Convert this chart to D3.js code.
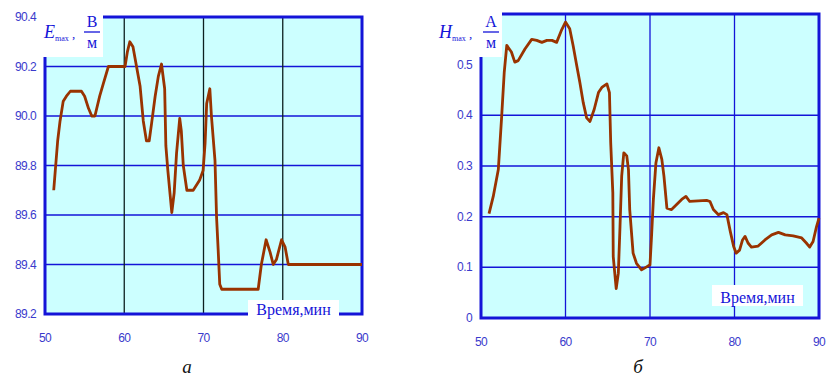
<!DOCTYPE html>
<html>
<head>
<meta charset="utf-8">
<script src="https://cdn.jsdelivr.net/npm/d3@7"></script>
<style>
body { margin: 0; background: #fff; }
</style>
</head>
<body>
<div id="chart"></div>
<script>
// time ticks shared by both panels
const xTicks = [50, 60, 70, 80, 90];

// panel a: E max, V/m
const eTicks = [89.2, 89.4, 89.6, 89.8, 90.0, 90.2, 90.4];
const eTime = [51.1, 51.3, 51.6, 51.9, 52.3, 52.7, 53.2, 54.0, 54.6, 55.0, 55.5, 55.9, 56.3, 56.9, 57.35, 58.0, 59.0, 60.1,
  60.4, 60.7, 61.1, 61.55, 62.0, 62.4, 62.8, 63.15, 63.45, 63.9, 64.3, 64.7, 65.1, 65.25, 65.5, 66.0, 66.3, 66.6, 67.0,
  67.2, 67.45, 67.9, 68.7, 69.5, 69.95, 70.2, 70.4, 70.8, 71.0, 71.45, 71.65, 71.85, 72.05, 72.3, 76.9, 77.3, 77.9,
  78.4, 78.8, 79.2, 79.85, 80.3, 80.7, 90.0];
const eValue = [89.70, 89.78, 89.90, 89.98, 90.06, 90.08, 90.10, 90.10, 90.10, 90.08, 90.03, 90.00, 90.00, 90.08, 90.13,
  90.20, 90.20, 90.20, 90.26, 90.30, 90.28, 90.20, 90.12, 89.98, 89.90, 89.90, 89.97, 90.08, 90.16, 90.21, 90.11, 89.88,
  89.78, 89.61, 89.69, 89.85, 89.99, 89.94, 89.80, 89.70, 89.70, 89.74, 89.78, 89.89, 90.05, 90.11, 90.00, 89.82, 89.59,
  89.46, 89.32, 89.30, 89.30, 89.40, 89.50, 89.45, 89.40, 89.42, 89.50, 89.47, 89.40, 89.40];

// panel b: H max, A/m
const hTicks = [0, 0.1, 0.2, 0.3, 0.4, 0.5];
const hTime = [50.95, 51.45, 52.05, 52.45, 52.75, 53.05, 53.6, 54.0, 54.4, 55.2, 56.0, 56.6, 57.2, 57.8, 58.4, 58.95, 59.5,
  60.0, 60.5, 60.9, 61.3, 61.7, 62.1, 62.5, 62.9, 63.4, 63.9, 64.3, 64.9, 65.2, 65.35, 65.6, 65.65, 66.0, 66.25, 66.45,
  66.65, 66.9, 67.25, 67.45, 67.6, 68.0, 68.4, 69.0, 69.6, 70.0, 70.2, 70.4, 70.7, 71.05, 71.4, 71.65, 72.0, 72.55, 73.15,
  73.75, 74.25, 74.7, 76.7, 77.1, 77.5, 78.1, 78.7, 79.1, 79.5, 79.9, 80.2, 80.6, 80.95, 81.25, 81.6, 82.0, 82.8, 83.6,
  84.4, 85.2, 86.0, 86.95, 87.95, 88.5, 88.9, 89.3, 89.7, 90.0];
const hValue = [0.206, 0.24, 0.293, 0.399, 0.485, 0.538, 0.525, 0.505, 0.508, 0.531, 0.55, 0.548, 0.544, 0.548, 0.548, 0.544,
  0.567, 0.584, 0.571, 0.538, 0.501, 0.465, 0.425, 0.395, 0.388, 0.412, 0.445, 0.455, 0.462, 0.445, 0.346, 0.247, 0.121,
  0.058, 0.088, 0.18, 0.28, 0.326, 0.32, 0.293, 0.214, 0.128, 0.108, 0.095, 0.101, 0.105, 0.167, 0.234, 0.306, 0.336, 0.313,
  0.28, 0.217, 0.214, 0.224, 0.234, 0.24, 0.23, 0.232, 0.23, 0.214, 0.204, 0.208, 0.204, 0.171, 0.141, 0.128, 0.134, 0.154,
  0.161, 0.148, 0.14, 0.142, 0.154, 0.164, 0.169, 0.164, 0.162, 0.158, 0.148, 0.14, 0.151, 0.18, 0.197];

var svg = d3.select("#chart").append("svg")
    .attr("width", 840)
    .attr("height", 376);

var blue = "#1414d8";
var tickBlue = "#3a3acc";
var serif = "'Liberation Serif', 'DejaVu Serif', serif";
var sans = "'Liberation Sans', Arial, sans-serif";

function panel(p) {
    var x = d3.scaleLinear().domain([50, 90]).range([p.left, p.right]);
    var y = d3.scaleLinear().domain(p.domain).range([p.bottom, p.top]);
    var g = svg.append("g");

    //background
    g.append("rect")
        .attr("x", p.left).attr("y", p.top)
        .attr("width", p.right - p.left).attr("height", p.bottom - p.top)
        .attr("fill", "#ccffff");

    //horizontal grid
    g.selectAll(".hg").data(p.yTicks.slice(1, -1)).enter().append("line")
        .attr("x1", p.left).attr("x2", p.right)
        .attr("y1", d => y(d)).attr("y2", d => y(d))
        .attr("stroke", blue).attr("stroke-width", 1.5);

    //vertical grid
    g.selectAll(".vg").data(xTicks.slice(1, -1)).enter().append("line")
        .attr("x1", d => x(d)).attr("x2", d => x(d))
        .attr("y1", p.top).attr("y2", p.bottom)
        .attr("stroke", p.vColor).attr("stroke-width", 1.3);

    //border
    g.append("rect")
        .attr("x", p.left).attr("y", p.top)
        .attr("width", p.right - p.left).attr("height", p.bottom - p.top)
        .attr("fill", "none").attr("stroke", blue).attr("stroke-width", 3);

    //curve
    var pts = p.t.map((t, i) => [t, p.v[i]]);
    g.append("path")
        .datum(pts)
        .attr("d", d3.line().x(d => x(d[0])).y(d => y(d[1])))
        .attr("fill", "none")
        .attr("stroke", "#993300")
        .attr("stroke-width", 2.8)
        .attr("stroke-linejoin", "round");

    //tick labels
    g.selectAll(".yl").data(p.yTicks).enter().append("text")
        .attr("x", p.left - 9).attr("y", d => y(d) + 4)
        .attr("text-anchor", "end")
        .style("font-family", sans)
        .style("font-size", "12px")
        .style("letter-spacing", "-0.6px")
        .attr("fill", tickBlue)
        .text(p.fmt);
    g.selectAll(".xl").data(xTicks).enter().append("text")
        .attr("x", d => x(d)).attr("y", p.xLabelY)
        .attr("text-anchor", "middle")
        .style("font-family", sans)
        .style("font-size", "12px")
        .style("letter-spacing", "-0.6px")
        .attr("fill", tickBlue)
        .text(d => d);

    //y label box
    var b = p.yBox;
    g.append("rect").attr("x", b[0]).attr("y", b[1]).attr("width", b[2]).attr("height", b[3]).attr("fill", "#fff");
    var lab = g.append("text").attr("x", b[0] + 4).attr("y", b[1] + 30)
        .style("font-family", serif).attr("fill", blue);
    lab.append("tspan").style("font-style", "italic").style("font-size", "18px").text(p.sym);
    lab.append("tspan").style("font-size", "8px").attr("dy", 3).text("max");
    lab.append("tspan").style("font-size", "13px").attr("dy", -3).text(" ,");
    var fx = b[0] + b[2] - 11;
    g.append("text").attr("x", fx).attr("y", b[1] + 19).attr("text-anchor", "middle")
        .style("font-family", serif).style("font-size", "16px").attr("fill", blue).text(p.unit);
    g.append("line").attr("x1", fx - 8).attr("x2", fx + 8)
        .attr("y1", b[1] + 24).attr("y2", b[1] + 24)
        .attr("stroke", blue).attr("stroke-width", 1.3);
    g.append("text").attr("x", fx).attr("y", b[1] + 40).attr("text-anchor", "middle")
        .style("font-family", serif).style("font-size", "16px").attr("fill", blue).text("м");

    //x label box
    var c = p.xBox;
    g.append("rect").attr("x", c[0]).attr("y", c[1]).attr("width", c[2]).attr("height", c[3]).attr("fill", "#fff");
    g.append("text").attr("x", c[0] + c[2] / 2).attr("y", c[1] + c[3] - 3)
        .attr("text-anchor", "middle")
        .style("font-family", serif)
        .style("font-size", "16px")
        .attr("fill", blue)
        .text("Время,мин");

    //caption
    g.append("text").attr("x", p.capX).attr("y", 373)
        .attr("text-anchor", "middle")
        .style("font-family", serif)
        .style("font-style", "italic").style("font-size", "19px")
        .attr("fill", "#111")
        .text(p.cap);
}

panel({
    left: 45, right: 362, top: 17, bottom: 314,
    domain: [89.2, 90.4], yTicks: eTicks, fmt: d => d.toFixed(1),
    t: eTime, v: eValue, vColor: "#0d2020",
    xLabelY: 342, yBox: [40, 8, 63, 49], sym: "E", unit: "B",
    xBox: [248, 300, 91, 18], capX: 187, cap: "а"
});

panel({
    left: 481, right: 819, top: 14, bottom: 318,
    domain: [0, 0.6], yTicks: hTicks, fmt: d => d === 0 ? "0" : d.toFixed(1),
    t: hTime, v: hValue, vColor: blue,
    xLabelY: 346, yBox: [435, 8, 67, 49], sym: "H", unit: "A",
    xBox: [712, 285, 91, 21], capX: 638, cap: "б"
});
</script>
</body>
</html>
